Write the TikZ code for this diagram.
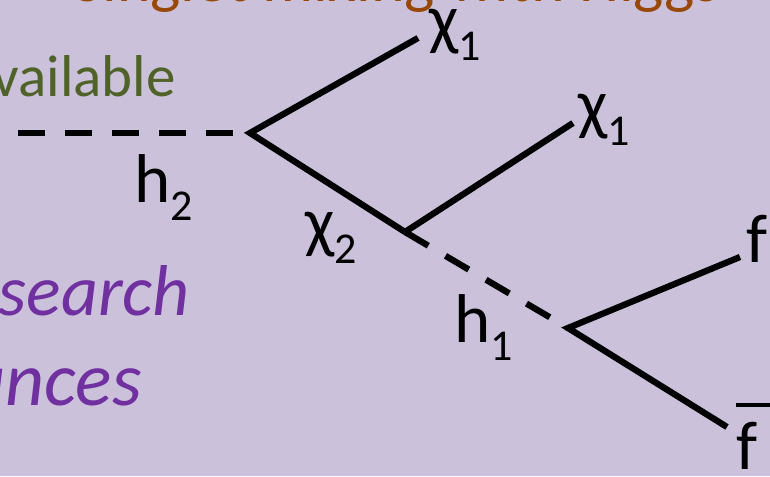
\documentclass[tikz,border=0pt]{standalone}
\usepackage{fontspec}
\setmainfont{Carlito}
\definecolor{bg}{RGB}{203,193,219}
\definecolor{titleorange}{RGB}{152,72,7}
\definecolor{olive}{RGB}{79,98,40}
\definecolor{violet}{RGB}{112,48,160}
\newcommand\plab[2]{#1\raisebox{-18pt}{\fontsize{44}{44}\selectfont #2}}
\tikzset{
  fermion/.style={line width=6.3pt, line join=miter, line cap=butt},
  scalar/.style={line width=6.3pt, line cap=butt, dash pattern=on 27pt off 20pt},
  lbl/.style={inner sep=0pt, anchor=base west, font=\fontsize{69}{69}\selectfont},
  sidetext/.style={inner sep=0pt, anchor=base east}
}
\begin{document}
\begin{tikzpicture}[x=1pt,y=-1pt]
\useasboundingbox (0,0) rectangle (770,476);
\clip (0,0) rectangle (770,476);
\fill[bg] (0,0) rectangle (770,476);
% background slide text (cut off)
\node[sidetext, text=titleorange, font=\fontsize{64}{64}\selectfont] (title) at (720,2) {Singlet mixing with Higgs};
\node[sidetext, text=olive, font=\fontsize{59}{59}\selectfont] (avail) at (176,97) {available};
\node[sidetext, text=violet, font=\fontsize{72}{72}\selectfont\itshape] (search) at (190,315) {search};
\node[sidetext, text=violet, font=\fontsize{76}{76}\selectfont\itshape] (nces) at (142,405) {unces};
% vertices and ends
\coordinate (e0) at (18,133);
\coordinate (v1) at (250,133);
\coordinate (v2) at (405,232);
\coordinate (v3) at (568,328);
\coordinate (c1a) at (418,38);
\coordinate (c1b) at (573,123);
\coordinate (fa) at (740,257);
\coordinate (fb) at (727,427);
% lines
\draw[scalar] (e0) -- (v1);
\draw[fermion] (c1a) -- (v1) -- (v2);
\draw[fermion] (v2) -- (c1b);
\draw[scalar] (v2) -- (v3);
\draw[fermion] (fa) -- (v3) -- (fb);
% labels
\node[lbl] (lh2) at (134,202) {\plab{h}{2}};
\node[lbl] (lc1a) at (429,43) {\plab{χ}{1}};
\node[lbl] (lc1b) at (578,127) {\plab{χ}{1}};
\node[lbl] (lc2) at (305,245) {\plab{χ}{2}};
\node[lbl] (lh1) at (454,342) {\plab{h}{1}};
\node[lbl] (lf) at (746,262) {f};
\node[lbl] (lfb) at (736,469) {\makebox[0pt][l]{\raisebox{62pt}{\rule{40pt}{4pt}}}f};
\end{tikzpicture}
\end{document}
